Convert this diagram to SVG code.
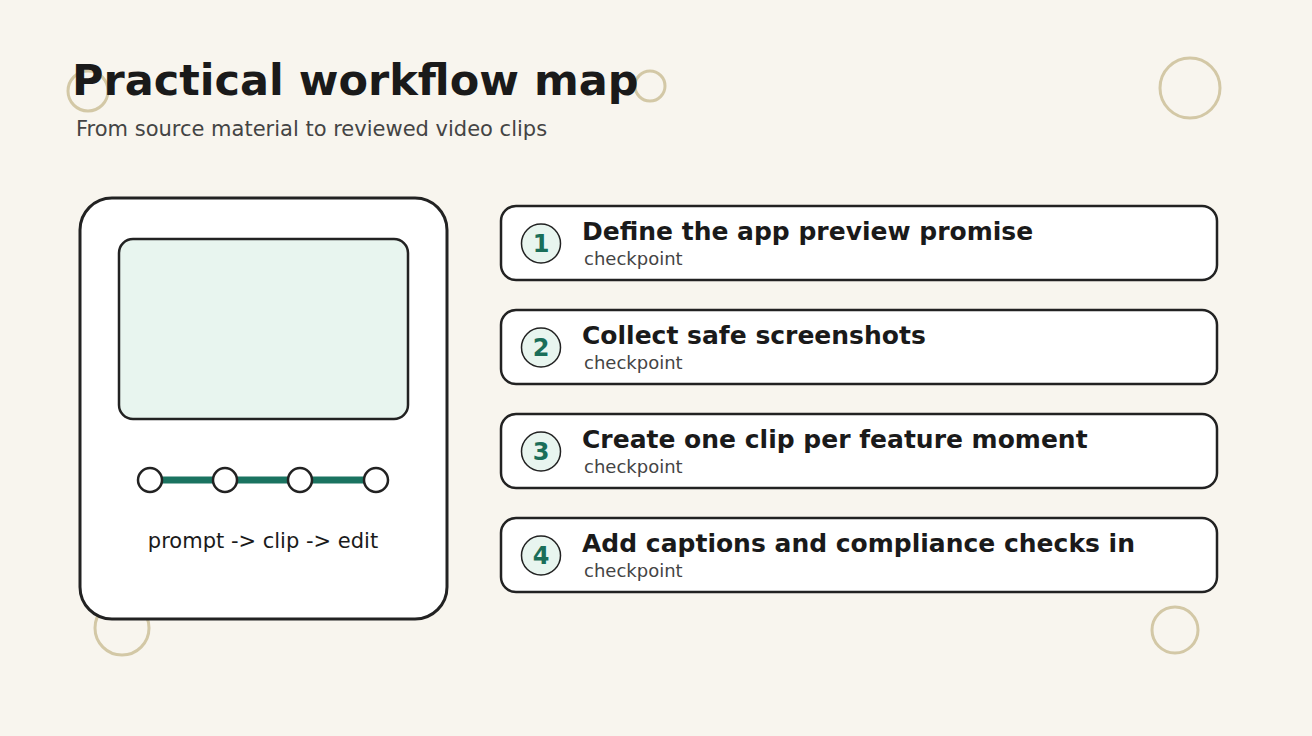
<svg xmlns="http://www.w3.org/2000/svg" width="1312" height="736" viewBox="0 0 1312 736">
<style>
.deco{fill:none;stroke:#d3c8a6;stroke-width:3}
.card{fill:#ffffff;stroke:#222222;stroke-width:2.5}
.badge{fill:#e8f5ef;stroke:#222222;stroke-width:1.5}
.num{font-family:"DejaVu Sans",sans-serif;font-weight:bold;font-size:24px;fill:#1a6e59;text-anchor:middle}
.ttl{font-family:"DejaVu Sans",sans-serif;font-weight:bold;font-size:25px;fill:#1a1a1a}
.sub{font-family:"DejaVu Sans",sans-serif;font-size:18px;fill:#444444}
.dot{fill:#ffffff;stroke:#222222;stroke-width:2.5}
</style>
<rect width="1312" height="736" fill="#f8f5ee"/>
<g id="decor">
<circle class="deco" cx="88" cy="91" r="20"/>
<circle class="deco" cx="650" cy="86" r="15"/>
<circle class="deco" cx="1190" cy="88" r="30"/>
<circle class="deco" cx="122" cy="628" r="27"/>
<circle class="deco" cx="1175" cy="630" r="23"/>
</g>
<g id="header">
<text x="72" y="95" font-family="DejaVu Sans, sans-serif" font-weight="bold" font-size="43" fill="#1a1a1a">Practical workflow map</text>
<text x="76" y="136" font-family="DejaVu Sans, sans-serif" font-size="21" fill="#444444">From source material to reviewed video clips</text>
</g>
<g id="device">
<rect x="80" y="198" width="367" height="421" rx="32" fill="#ffffff" stroke="#222222" stroke-width="3"/>
<rect x="119" y="239" width="289" height="180" rx="14" fill="#e8f5ef" stroke="#222222" stroke-width="2.5"/>
<line x1="150" y1="480" x2="376" y2="480" stroke="#1a7360" stroke-width="7"/>
<circle class="dot" cx="150" cy="480" r="12"/>
<circle class="dot" cx="225" cy="480" r="12"/>
<circle class="dot" cx="300" cy="480" r="12"/>
<circle class="dot" cx="376" cy="480" r="12"/>
<text x="263" y="548" text-anchor="middle" font-family="DejaVu Sans, sans-serif" font-size="21" fill="#1a1a1a">prompt -&gt; clip -&gt; edit</text>
</g>
<g id="connectors"></g>
<g id="step1">
<rect class="card" x="501" y="206" width="716" height="74" rx="15"/>
<circle class="badge" cx="541" cy="243.5" r="19.5"/>
<text class="num" x="541" y="252">1</text>
<text class="ttl" x="582" y="240">Define the app preview promise</text>
<text class="sub" x="584" y="265">checkpoint</text>
</g>
<g id="step2">
<rect class="card" x="501" y="310" width="716" height="74" rx="15"/>
<circle class="badge" cx="541" cy="347.5" r="19.5"/>
<text class="num" x="541" y="356">2</text>
<text class="ttl" x="582" y="344">Collect safe screenshots</text>
<text class="sub" x="584" y="369">checkpoint</text>
</g>
<g id="step3">
<rect class="card" x="501" y="414" width="716" height="74" rx="15"/>
<circle class="badge" cx="541" cy="451.5" r="19.5"/>
<text class="num" x="541" y="460">3</text>
<text class="ttl" x="582" y="448">Create one clip per feature moment</text>
<text class="sub" x="584" y="473">checkpoint</text>
</g>
<g id="step4">
<rect class="card" x="501" y="518" width="716" height="74" rx="15"/>
<circle class="badge" cx="541" cy="555.5" r="19.5"/>
<text class="num" x="541" y="564">4</text>
<text class="ttl" x="582" y="552">Add captions and compliance checks in</text>
<text class="sub" x="584" y="577">checkpoint</text>
</g>
</svg>
